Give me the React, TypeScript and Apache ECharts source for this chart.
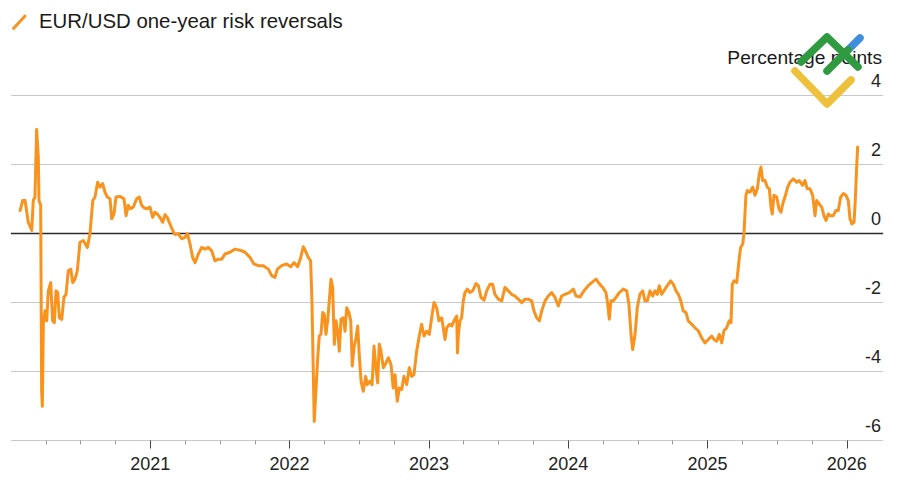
import React, { useEffect, useRef } from "react";
import * as echarts from "echarts";

// ---- Data (decimal year, percentage points) ----
const pts2020: [number, number][] = [
  [2020.065, 0.67], [2020.084, 0.96], [2020.101, 0.96], [2020.124, 0.33], [2020.149, 0.09],
  [2020.16, 0.96], [2020.172, 1.06], [2020.184, 3.02], [2020.196, 2.22], [2020.201, 0.96],
  [2020.213, 0.82], [2020.22, -4.57], [2020.225, -5.01], [2020.232, -2.63], [2020.244, -2.24],
  [2020.256, -2.53], [2020.268, -1.66], [2020.285, -1.42], [2020.299, -2.53], [2020.311, -2.58],
  [2020.323, -1.66], [2020.335, -1.71], [2020.347, -2.44], [2020.364, -2.49], [2020.38, -1.85],
  [2020.395, -1.76], [2020.411, -1.08], [2020.429, -1.03], [2020.443, -1.42], [2020.459, -1.32],
  [2020.476, -1.08], [2020.495, -0.25], [2020.519, -0.2], [2020.548, -0.4], [2020.567, 0.0],
  [2020.587, 0.96], [2020.603, 1.06], [2020.622, 1.49], [2020.639, 1.35], [2020.658, 1.45],
  [2020.675, 1.2], [2020.691, 1.06], [2020.711, 1.01], [2020.723, 0.43], [2020.739, 0.57],
  [2020.754, 1.06], [2020.782, 1.08], [2020.811, 1.01], [2020.826, 0.52], [2020.842, 0.82],
  [2020.859, 0.72], [2020.878, 0.77], [2020.902, 1.01], [2020.921, 1.06], [2020.938, 0.82],
  [2020.955, 0.75], [2020.974, 0.72], [2020.998, 0.77],
];

const pts2021: [number, number][] = [
  [2021.017, 0.47], [2021.034, 0.62], [2021.05, 0.57], [2021.07, 0.47], [2021.089, 0.33],
  [2021.106, 0.55], [2021.122, 0.47], [2021.141, 0.28], [2021.161, 0.09], [2021.177, -0.03],
  [2021.201, 0.0], [2021.225, -0.15], [2021.249, -0.11], [2021.266, 0.0], [2021.285, -0.3],
  [2021.304, -0.69], [2021.321, -0.84], [2021.345, -0.59], [2021.369, -0.4], [2021.393, -0.45],
  [2021.416, -0.4], [2021.441, -0.5], [2021.464, -0.79], [2021.488, -0.74], [2021.513, -0.74],
  [2021.536, -0.59], [2021.572, -0.54], [2021.608, -0.45], [2021.644, -0.48], [2021.68, -0.54],
  [2021.716, -0.69], [2021.744, -0.88], [2021.775, -0.93], [2021.811, -0.93], [2021.847, -1.03],
  [2021.872, -1.22], [2021.895, -1.27], [2021.912, -1.03], [2021.943, -0.93], [2021.979, -0.88],
];

const pts2022: [number, number][] = [
  [2022.008, -0.96], [2022.032, -0.84], [2022.058, -0.96], [2022.08, -0.69], [2022.098, -0.38],
  [2022.118, -0.54], [2022.134, -0.69], [2022.151, -0.79], [2022.161, -2.05], [2022.17, -3.99],
  [2022.177, -5.45], [2022.19, -4.48], [2022.202, -3.6], [2022.213, -2.97], [2022.225, -2.92],
  [2022.238, -2.29], [2022.249, -2.34], [2022.261, -2.92], [2022.273, -2.53], [2022.285, -1.95],
  [2022.297, -1.32], [2022.309, -1.56], [2022.321, -3.21], [2022.333, -2.53], [2022.345, -2.83],
  [2022.357, -3.41], [2022.369, -2.48], [2022.386, -2.44], [2022.398, -2.83], [2022.41, -2.15],
  [2022.426, -2.29], [2022.439, -2.53], [2022.45, -3.84], [2022.462, -3.31], [2022.477, -3.02],
  [2022.489, -2.68], [2022.5, -3.5], [2022.513, -4.28], [2022.529, -4.57], [2022.546, -4.14],
  [2022.558, -4.38], [2022.577, -4.28], [2022.592, -4.38], [2022.606, -3.26], [2022.62, -3.89],
  [2022.632, -4.33], [2022.644, -3.21], [2022.656, -3.41], [2022.673, -3.89], [2022.692, -3.75],
  [2022.709, -3.6], [2022.728, -3.8], [2022.744, -4.48], [2022.757, -4.09], [2022.773, -4.86],
  [2022.788, -4.48], [2022.805, -4.52], [2022.821, -4.14], [2022.841, -4.38], [2022.859, -3.89],
  [2022.876, -4.14], [2022.893, -4.09], [2022.912, -3.41], [2022.931, -2.97], [2022.948, -2.63],
  [2022.965, -2.97], [2022.984, -2.83],
];

const pts2023: [number, number][] = [
  [2023.003, -2.92], [2023.02, -2.44], [2023.037, -2.0], [2023.056, -2.15], [2023.072, -2.53],
  [2023.092, -2.44], [2023.103, -2.73], [2023.116, -3.07], [2023.128, -2.73], [2023.147, -2.63],
  [2023.164, -2.68], [2023.18, -2.53], [2023.2, -2.39], [2023.205, -3.46], [2023.212, -2.92],
  [2023.223, -2.53], [2023.235, -2.44], [2023.247, -1.95], [2023.259, -1.71], [2023.276, -1.61],
  [2023.295, -1.71], [2023.314, -1.66], [2023.338, -1.45], [2023.355, -1.51], [2023.374, -1.85],
  [2023.396, -1.93], [2023.415, -1.66], [2023.439, -1.47], [2023.458, -1.47], [2023.474, -1.76],
  [2023.498, -1.9], [2023.523, -1.95], [2023.546, -1.56], [2023.57, -1.66], [2023.594, -1.76],
  [2023.618, -1.81], [2023.642, -1.9], [2023.667, -2.0], [2023.69, -1.9], [2023.714, -1.9],
  [2023.738, -1.95], [2023.754, -2.24], [2023.774, -2.44], [2023.793, -2.53], [2023.81, -2.24],
  [2023.834, -1.95], [2023.857, -1.81], [2023.882, -1.71], [2023.905, -1.85], [2023.929, -2.1],
  [2023.953, -1.81], [2023.977, -1.76],
];

const pts2024: [number, number][] = [
  [2024.008, -1.71], [2024.037, -1.61], [2024.056, -1.81], [2024.085, -1.84], [2024.113, -1.66],
  [2024.144, -1.51], [2024.169, -1.42], [2024.2, -1.32], [2024.223, -1.45], [2024.248, -1.56],
  [2024.271, -1.71], [2024.284, -2.05], [2024.295, -2.48], [2024.307, -1.95], [2024.324, -1.95],
  [2024.343, -1.85], [2024.367, -1.71], [2024.396, -1.61], [2024.42, -1.66], [2024.436, -2.05],
  [2024.451, -2.92], [2024.463, -3.36], [2024.48, -2.92], [2024.496, -2.15], [2024.515, -1.76],
  [2024.535, -1.66], [2024.551, -1.95], [2024.568, -1.95], [2024.587, -1.66], [2024.607, -1.81],
  [2024.623, -1.66], [2024.64, -1.76], [2024.654, -1.51], [2024.671, -1.76], [2024.695, -1.61],
  [2024.711, -1.51], [2024.736, -1.37], [2024.755, -1.47], [2024.774, -1.66], [2024.791, -1.76],
  [2024.808, -1.95], [2024.826, -2.24], [2024.846, -2.29], [2024.862, -2.53], [2024.887, -2.63],
  [2024.91, -2.73], [2024.934, -2.82], [2024.958, -3.02], [2024.982, -3.17],
];

const pts2025: [number, number][] = [
  [2025.006, -3.07], [2025.03, -2.97], [2025.047, -3.07], [2025.066, -3.12], [2025.085, -2.92],
  [2025.102, -3.17], [2025.118, -2.82], [2025.138, -2.73], [2025.156, -2.53], [2025.169, -2.58],
  [2025.178, -1.47], [2025.19, -1.37], [2025.21, -1.42], [2025.226, -0.79], [2025.238, -0.4],
  [2025.253, -0.3], [2025.262, 0.0], [2025.269, 0.57], [2025.276, 1.11], [2025.286, 1.25],
  [2025.305, 1.2], [2025.325, 1.35], [2025.341, 1.11], [2025.358, 1.3], [2025.372, 1.74],
  [2025.384, 1.93], [2025.396, 1.54], [2025.413, 1.54], [2025.429, 1.35], [2025.444, 1.3],
  [2025.456, 0.77], [2025.465, 0.57], [2025.477, 1.11], [2025.497, 1.06], [2025.513, 0.72],
  [2025.528, 0.62], [2025.54, 0.86], [2025.556, 1.06], [2025.576, 1.35], [2025.592, 1.49],
  [2025.616, 1.59], [2025.64, 1.49], [2025.659, 1.54], [2025.683, 1.4], [2025.7, 1.54],
  [2025.716, 1.3], [2025.736, 1.3], [2025.755, 1.11], [2025.772, 0.52], [2025.784, 0.96],
  [2025.802, 0.86], [2025.82, 0.77], [2025.836, 0.52], [2025.851, 0.38], [2025.867, 0.57],
  [2025.884, 0.52], [2025.903, 0.52], [2025.922, 0.67], [2025.939, 0.67], [2025.956, 1.06],
  [2025.975, 1.16], [2025.994, 1.11],
];

const pts2026: [number, number][] = [
  [2026.011, 0.96], [2026.023, 0.43], [2026.037, 0.28], [2026.052, 0.33], [2026.061, 0.96],
  [2026.071, 1.93], [2026.078, 2.51],
];

const yearTicks = [2021, 2022, 2023, 2024, 2025, 2026];
const X_MIN = 2020;
const X_MAX = 2026.26;
const Y_MIN = -6;
const Y_MAX = 4;
const Y_STEP = 2;

const TITLE = "EUR/USD one-year risk reversals";
const UNIT = "Percentage points";

const FONT = "'Liberation Sans', Arial, Helvetica, sans-serif";
const ORANGE = "#F7931E";

export default function App() {
  const ref = useRef<HTMLDivElement | null>(null);

  useEffect(() => {
    if (!ref.current) return;
    const chart = echarts.init(ref.current, undefined, { renderer: "svg" });
    const series = [...pts2020, ...pts2021, ...pts2022, ...pts2023, ...pts2024, ...pts2025, ...pts2026];

    const gridTop = 95.7;
    const gridBottom = 50.5;
    const pxPerYear = 139.3;
    const left0 = 11;
    const right0 = 17;
    const firstYearPx = left0 + (yearTicks[0] - X_MIN) * pxPerYear;
    const lastYearPx = left0 + (yearTicks[yearTicks.length - 1] - X_MIN) * pxPerYear;
    const quarterStartPx = left0 + 0.25 * pxPerYear;

    chart.setOption({
      animation: false,
      backgroundColor: "#ffffff",
      grid: [
        { left: left0, right: right0, top: gridTop, bottom: gridBottom },
        { left: quarterStartPx, right: 900 - lastYearPx, top: gridTop, bottom: gridBottom },
        { left: firstYearPx, right: 900 - lastYearPx, top: gridTop, bottom: gridBottom },
      ],
      xAxis: [
        {
          gridIndex: 0,
          type: "value",
          min: X_MIN,
          max: X_MAX,
          axisLine: { show: true, lineStyle: { color: "#bdbdbd", width: 1 } },
          axisTick: { show: false },
          axisLabel: { show: false },
          splitLine: { show: false },
        },
        {
          gridIndex: 1,
          type: "value",
          min: X_MIN + 0.25,
          max: yearTicks[yearTicks.length - 1],
          interval: 0.25,
          axisLine: { show: false },
          axisTick: { show: true, length: 4, lineStyle: { color: "#9a9a9a", width: 1 } },
          axisLabel: { show: false },
          splitLine: { show: false },
        },
        {
          gridIndex: 2,
          type: "value",
          min: yearTicks[0],
          max: yearTicks[yearTicks.length - 1],
          interval: 1,
          axisLine: { show: false },
          axisTick: { show: true, length: 8, lineStyle: { color: "#444", width: 1 } },
          axisLabel: {
            show: true,
            margin: 14,
            color: "#222",
            fontSize: 18,
            fontFamily: FONT,
            formatter: (v: number) => String(Math.round(v)),
          },
          splitLine: { show: false },
        },
      ],
      yAxis: [
        {
          gridIndex: 0,
          type: "value",
          position: "right",
          min: Y_MIN,
          max: Y_MAX,
          interval: Y_STEP,
          axisLine: { show: false },
          axisTick: { show: false },
          axisLabel: {
            inside: true,
            margin: 2,
            color: "#222",
            fontSize: 18,
            fontFamily: FONT,
            align: "right",
            verticalAlign: "bottom",
            padding: [0, 0, 6, 0],
            formatter: (v: number) => String(v),
          },
          splitLine: { show: true, lineStyle: { color: "#c9c9c9", width: 1 } },
        },
        { gridIndex: 1, type: "value", show: false, min: 0, max: 1 },
        { gridIndex: 2, type: "value", show: false, min: 0, max: 1 },
      ],
      series: [
        {
          type: "line",
          xAxisIndex: 0,
          yAxisIndex: 0,
          data: [[X_MIN, 0], [X_MAX, 0]],
          symbol: "none",
          silent: true,
          z: 2,
          lineStyle: { color: "#2b2b2b", width: 1.5 },
        },
        {
          type: "line",
          xAxisIndex: 0,
          yAxisIndex: 0,
          data: series,
          symbol: "none",
          showSymbol: false,
          silent: true,
          z: 3,
          lineStyle: { color: ORANGE, width: 3, join: "round", cap: "round" },
        },
      ],
      graphic: [
        {
          type: "line",
          shape: { x1: 13.5, y1: 28.5, x2: 25, y2: 16 },
          style: { stroke: ORANGE, lineWidth: 3, lineCap: "round" },
        },
        {
          type: "text",
          x: 39,
          y: 21,
          style: {
            text: TITLE,
            fontSize: 20.4,
            fontFamily: FONT,
            fill: "#1a1a1a",
            verticalAlign: "middle",
            align: "left",
          },
        },
        {
          type: "text",
          x: 882,
          y: 57,
          style: {
            text: UNIT,
            fontSize: 19.2,
            fontFamily: FONT,
            fill: "#1a1a1a",
            verticalAlign: "middle",
            align: "right",
          },
        },
        {
          type: "group",
          z: 100,
          children: [
            {
              type: "polyline",
              z: 100,
              shape: { points: [[847, 51], [860, 38]] },
              style: { stroke: "#3f8fdc", lineWidth: 7.5, lineCap: "round", fill: null },
            },
            {
              type: "polyline",
              z: 101,
              shape: { points: [[827, 71], [848, 50]] },
              style: { stroke: "#2f9a3f", lineWidth: 7.5, lineCap: "round", fill: null },
            },
            {
              type: "polyline",
              z: 101,
              shape: { points: [[801, 62], [827, 37], [858, 67]] },
              style: { stroke: "#2f9a3f", lineWidth: 7.5, lineCap: "round", lineJoin: "round", fill: null },
            },
            {
              type: "polyline",
              z: 101,
              shape: { points: [[795, 71], [827, 104], [851, 80]] },
              style: { stroke: "#eec13c", lineWidth: 7.5, lineCap: "round", lineJoin: "round", fill: null },
            },
          ],
        },
      ],
    });
    return () => chart.dispose();
  }, []);

  return (
    <div
      ref={ref}
      style={{ position: "absolute", left: 0, top: 0, width: 900, height: 491, background: "#fff" }}
    />
  );
}
